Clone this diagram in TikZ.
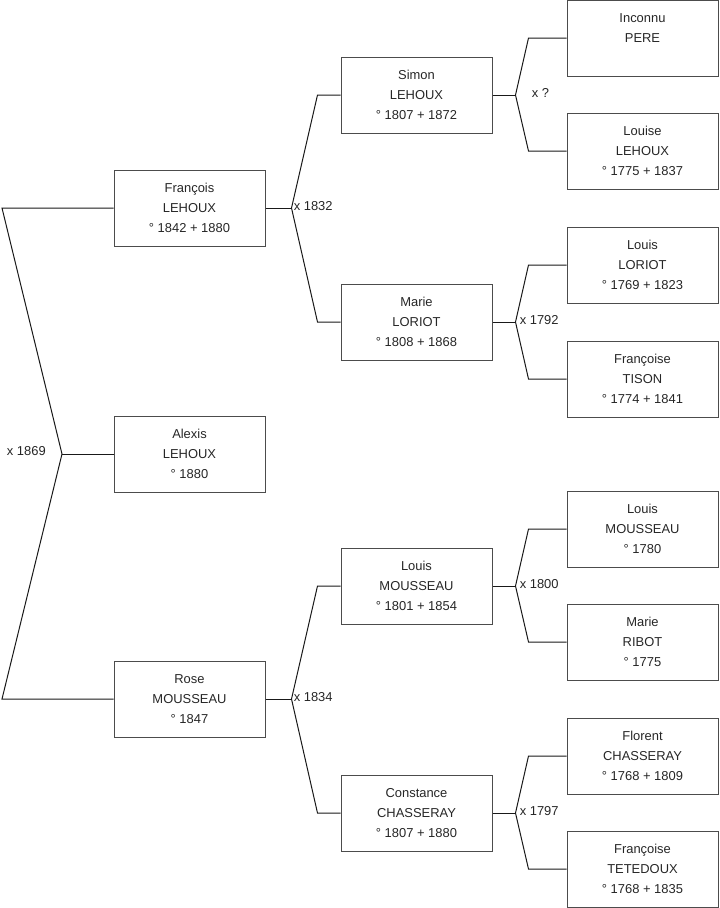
\documentclass[tikz,border=0pt]{standalone}
\usepackage{fontspec}
\setmainfont{Liberation Sans}
\usetikzlibrary{calc}

\begin{document}
\begin{tikzpicture}[
  x=0.75pt, y=-0.75pt,
  font=\fontsize{9.7}{15}\selectfont,
  person/.style={draw=black!70, line width=0.75pt, minimum width=113.25pt,
    minimum height=57pt, inner sep=0pt, align=center, text=black!85},
  link/.style={draw=black!90, line width=0.75pt},
  wed/.style={font=\fontsize{9.7}{11}\selectfont, text=black!85, inner sep=0pt}
]
\path[use as bounding box] (0,0) rectangle (719,908);

% generation 1
\node[person] (francois) at (189.5,208) {François\\LEHOUX\\° 1842 + 1880};
\node[person] (alexis) at (189.5,454) {Alexis\\LEHOUX\\° 1880};
\node[person] (rose) at (189.5,699) {Rose\\MOUSSEAU\\° 1847};

% generation 2
\node[person] (simon) at (416.5,95) {Simon\\LEHOUX\\° 1807 + 1872};
\node[person] (marie) at (416.5,322) {Marie\\LORIOT\\° 1808 + 1868};
\node[person] (louisMou) at (416.5,586) {Louis\\MOUSSEAU\\° 1801 + 1854};
\node[person] (constance) at (416.5,813) {Constance\\CHASSERAY\\° 1807 + 1880};

% generation 3
\node[person] (inconnu) at (642.5,38) {Inconnu\\PERE\\\vphantom{0}};
\node[person] (louise) at (642.5,151) {Louise\\LEHOUX\\° 1775 + 1837};
\node[person] (louisLor) at (642.5,265) {Louis\\LORIOT\\° 1769 + 1823};
\node[person] (francoiseTis) at (642.5,379) {Françoise\\TISON\\° 1774 + 1841};
\node[person] (louisMouP) at (642.5,529) {Louis\\MOUSSEAU\\° 1780};
\node[person] (marieRib) at (642.5,642) {Marie\\RIBOT\\° 1775};
\node[person] (florent) at (642.5,756) {Florent\\CHASSERAY\\° 1768 + 1809};
\node[person] (francoiseTet) at (642.5,869) {Françoise\\TETEDOUX\\° 1768 + 1835};

% parents of Alexis
\coordinate (j-alexis) at (62,454);
\coordinate (c-francois) at (2,208);
\coordinate (c-rose) at (2,699);
\draw[link] (francois.west) -- (c-francois) -- (j-alexis) -- (c-rose) -- (rose.west);
\draw[link] (alexis.west) -- (j-alexis);
\node[wed, anchor=east] at (46,451) {x 1869};

% the other couples
\foreach \kid/\dad/\mom/\js/\cs/\lx/\wedding in {
  francois/simon/marie/26/23/2/1832,
  rose/louisMou/constance/26/23/2/1834,
  simon/inconnu/louise/23/38/16/?,
  marie/louisLor/francoiseTis/23/38/4/1792,
  louisMou/louisMouP/marieRib/23/38/4/1800,
  constance/florent/francoiseTet/23/38/4/1797}
{
  \path (\kid.east) ++(\js,0) coordinate (j-\kid);
  \draw[link] (\kid.east) -- (j-\kid);
  \draw[link] (\dad.west) -- ++(-\cs,0) -- (j-\kid)
    -- ($(\mom.west)+(-\cs,0)$) -- (\mom.west);
  \node[wed, anchor=west] at ($(j-\kid)+(\lx,-2)$) {x \wedding};
}
\end{tikzpicture}
\end{document}
